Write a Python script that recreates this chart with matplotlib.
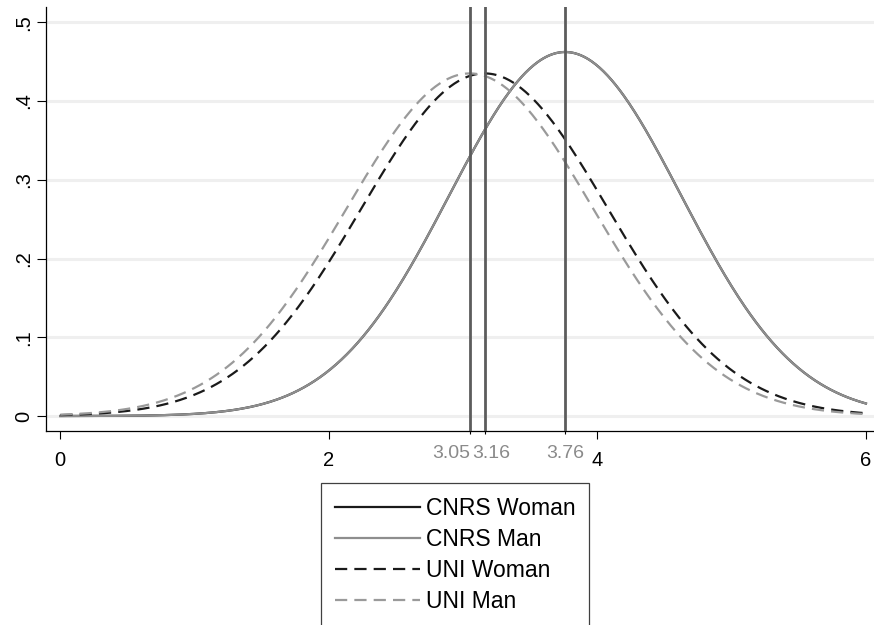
import numpy as np
import matplotlib
matplotlib.use("Agg")
import matplotlib.pyplot as plt
from matplotlib.ticker import FixedLocator, FixedFormatter
from matplotlib.transforms import ScaledTranslation

plt.rcParams['font.family'] = ['Liberation Sans', 'DejaVu Sans']

# Normal density parameters
series_labels = ["CNRS Woman", "CNRS Man", "UNI Woman", "UNI Man"]
series_means = [3.76, 3.76, 3.16, 3.05]
series_sds = [0.863, 0.863, 0.917, 0.917]
series_colors = ["#1a1a1a", "#8e8e8e", "#1a1a1a", "#9a9a9a"]
series_dashed = [False, False, True, True]

mean_lines = [3.05, 3.16, 3.76]
mean_labels = ["3.05", "3.16", "3.76"]

xticks = [0, 2, 4, 6]
xtick_labels = ["0", "2", "4", "6"]
yticks = [0, 0.1, 0.2, 0.3, 0.4, 0.5]
ytick_labels = ["0", ".1", ".2", ".3", ".4", ".5"]

W, H = 874, 625
fig = plt.figure(figsize=(W / 100, H / 100), dpi=100)
ax = fig.add_axes([46 / W, 1 - 431 / H, (874 - 46) / W, (431 - 7) / H])

x = np.linspace(0, 6, 600)
handles = []
for lab, m, s, c, d in zip(series_labels, series_means, series_sds, series_colors, series_dashed):
    y = np.exp(-0.5 * ((x - m) / s) ** 2) / (s * np.sqrt(2 * np.pi))
    if d:
        h, = ax.plot(x, y, color=c, lw=1.6, dashes=(5.5, 3.2), label=lab)
    else:
        h, = ax.plot(x, y, color=c, lw=1.6, label=lab)
    handles.append(h)

for v in mean_lines:
    ax.axvline(v, color="#5c5c5c", lw=2.0, zorder=3)

ax.set_xlim(-0.1065, 6.06)
ax.set_ylim(-0.019, 0.5194)

ax.set_yticks(yticks)
ax.set_yticklabels(ytick_labels, rotation=90, va="center")
ax.set_xticks(xticks)
ax.set_xticklabels(xtick_labels)
ax.xaxis.set_minor_locator(FixedLocator(mean_lines))
ax.xaxis.set_minor_formatter(FixedFormatter(mean_labels))

ax.tick_params(axis="x", which="major", length=6, width=0.8, pad=8.5, labelsize=14.5, colors="black")
ax.tick_params(axis="x", which="minor", length=2.5, width=0.8, pad=7.5, labelsize=14, labelcolor="#8a8a8a", color="black")
ax.tick_params(axis="y", which="major", length=6.5, width=0.8, pad=2.5, labelsize=14.5)

# shift the crowded mean labels apart, as in the reference
shifts_px = [-19, 7, 0]
for lbl, dx in zip(ax.get_xticklabels(minor=True), shifts_px):
    lbl.set_transform(lbl.get_transform() + ScaledTranslation(dx / 100, 0, fig.dpi_scale_trans))

ax.grid(axis="y", color="#efefef", lw=2.2, zorder=0)
ax.set_axisbelow(True)

for side in ["top", "right"]:
    ax.spines[side].set_visible(False)
for side in ["left", "bottom"]:
    ax.spines[side].set_linewidth(0.9)
    ax.spines[side].set_color("black")

leg = fig.legend(handles=handles, labels=series_labels, loc="upper left",
                 bbox_to_anchor=(321 / W, 1 - 483 / H), borderaxespad=0,
                 fontsize=16.5, frameon=True, fancybox=False, framealpha=1,
                 edgecolor="#404040", handlelength=3.7, handletextpad=0.26,
                 labelspacing=0.35, borderpad=0.6)
leg.get_frame().set_linewidth(0.9)

fig.savefig("out.png", dpi=100)
